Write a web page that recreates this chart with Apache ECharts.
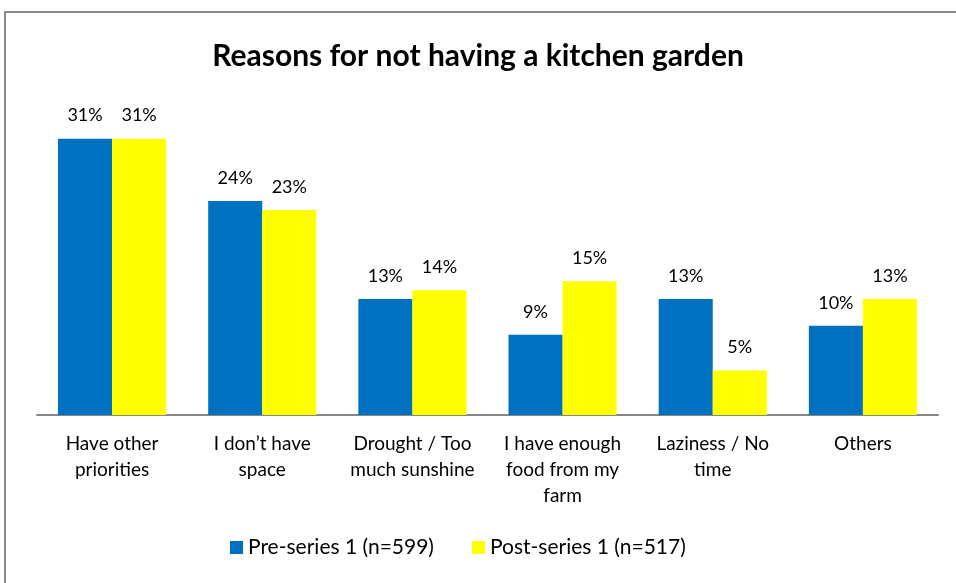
<!DOCTYPE html>
<html>
<head>
<meta charset="utf-8">
<script src="https://cdn.jsdelivr.net/npm/echarts@6/dist/echarts.min.js"></script>
<style>
  html, body { margin: 0; padding: 0; background: #fff; }
  #chart { width: 956px; height: 583px; }
</style>
</head>
<body>
<div id="chart"></div>
<script>
const categories = [
  'Have other\npriorities',
  'I don\u2019t have\nspace',
  'Drought / Too\nmuch sunshine',
  'I have enough\nfood from my\nfarm',
  'Laziness / No\ntime',
  'Others'
];
const preSeries = [31, 24, 13, 9, 13, 10];
const postSeries = [31, 23, 14, 15, 5, 13];
const seriesNames = ['Pre-series 1 (n=599)', 'Post-series 1 (n=517)'];

const FONT = 'Lato, "Noto Sans", sans-serif';
const chart = echarts.init(document.getElementById('chart'));

const labelStyle = {
  show: true,
  position: 'top',
  distance: 14,
  fontFamily: FONT,
  fontSize: 18,
  color: '#000',
  formatter: p => p.value + '%'
};

chart.setOption({
  animation: false,
  backgroundColor: '#fff',
  graphic: [{
    type: 'polyline',
    shape: { points: [[5, 583], [5, 12], [956, 12]] },
    style: { stroke: '#8c8c8c', lineWidth: 2, fill: null }
  }],
  title: {
    text: 'Reasons for not having a kitchen garden',
    left: 'center',
    top: 36,
    textStyle: { fontFamily: FONT, fontSize: 30, fontWeight: 'bold', color: '#000' }
  },
  legend: {
    bottom: 20,
    left: 225,
    itemWidth: 13,
    itemHeight: 13,
    itemGap: 38,
    icon: 'rect',
    textStyle: { fontFamily: FONT, fontSize: 21, color: '#000' },
    data: seriesNames
  },
  grid: { left: 37, right: 18, top: 103, bottom: 168 },
  xAxis: {
    type: 'category',
    data: categories,
    axisLine: { lineStyle: { color: '#868686', width: 2 } },
    axisTick: { show: false },
    axisLabel: {
      interval: 0,
      margin: 16,
      fontFamily: FONT,
      fontSize: 19,
      lineHeight: 26,
      color: '#000'
    }
  },
  yAxis: {
    type: 'value',
    min: 0,
    max: 35,
    show: false
  },
  series: [
    {
      name: seriesNames[0],
      type: 'bar',
      data: preSeries,
      barGap: '0%',
      barCategoryGap: '28%',
      itemStyle: { color: '#0070C0' },
      label: labelStyle
    },
    {
      name: seriesNames[1],
      type: 'bar',
      data: postSeries,
      itemStyle: { color: '#FFFF00' },
      label: labelStyle
    }
  ]
});
</script>
</body>
</html>
